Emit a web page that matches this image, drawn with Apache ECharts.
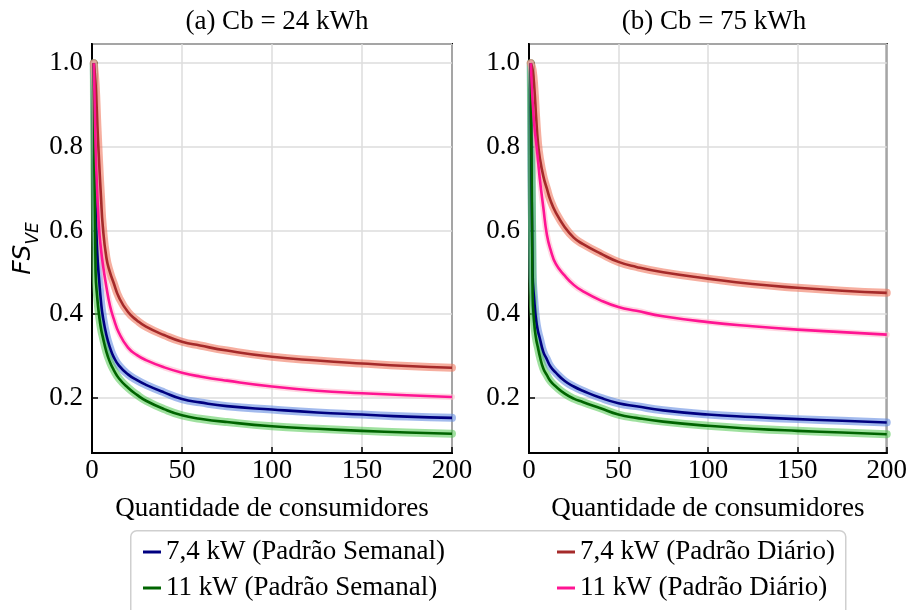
<!DOCTYPE html>
<html>
<head>
<meta charset="utf-8">
<script src="https://cdn.jsdelivr.net/npm/echarts@6/dist/echarts.min.js"></script>
<style>
  html, body { margin: 0; padding: 0; background: #fff; }
  #chart { width: 910px; height: 610px; }
</style>
</head>
<body>
<div id="chart"></div>
<script>
// Number of consumers (x) at which the simultaneity factor was evaluated
const consumers = [1, 2, 3, 4, 5, 6, 8, 10, 12, 15, 20, 25, 30, 40, 50, 60, 75, 100, 125, 150, 175, 200];

// (a) Cb = 24 kWh
const a_74_semanal = [1.0, 0.66, 0.54, 0.48, 0.43, 0.395, 0.35, 0.32, 0.298, 0.277, 0.256, 0.242, 0.231, 0.213, 0.197, 0.189, 0.180, 0.172, 0.165, 0.160, 0.155, 0.152];
const a_11_semanal = [1.0, 0.50, 0.435, 0.395, 0.365, 0.345, 0.31, 0.285, 0.267, 0.246, 0.224, 0.207, 0.193, 0.173, 0.158, 0.150, 0.142, 0.132, 0.126, 0.121, 0.117, 0.114];
const a_74_diario  = [1.0, 0.95, 0.85, 0.76, 0.68, 0.61, 0.535, 0.50, 0.475, 0.44, 0.405, 0.385, 0.37, 0.35, 0.334, 0.325, 0.313, 0.298, 0.289, 0.282, 0.276, 0.272];
const a_11_diario  = [1.0, 0.80, 0.68, 0.60, 0.555, 0.52, 0.465, 0.42, 0.39, 0.355, 0.32, 0.302, 0.29, 0.273, 0.26, 0.251, 0.241, 0.227, 0.217, 0.211, 0.206, 0.202];

// (b) Cb = 75 kWh
const b_74_semanal = [1.0, 0.50, 0.43, 0.385, 0.36, 0.343, 0.31, 0.292, 0.275, 0.26, 0.24, 0.227, 0.217, 0.20, 0.187, 0.18, 0.17, 0.16, 0.154, 0.149, 0.145, 0.141];
const b_11_semanal = [1.0, 0.45, 0.375, 0.34, 0.32, 0.30, 0.27, 0.254, 0.24, 0.227, 0.21, 0.198, 0.19, 0.175, 0.16, 0.152, 0.143, 0.133, 0.126, 0.121, 0.117, 0.113];
const b_74_diario  = [1.0, 0.985, 0.94, 0.87, 0.81, 0.775, 0.73, 0.70, 0.672, 0.643, 0.608, 0.583, 0.568, 0.545, 0.525, 0.513, 0.50, 0.485, 0.472, 0.463, 0.456, 0.451];
const b_11_diario  = [1.0, 0.91, 0.85, 0.81, 0.77, 0.725, 0.655, 0.59, 0.555, 0.52, 0.492, 0.47, 0.455, 0.433, 0.417, 0.408, 0.395, 0.381, 0.371, 0.363, 0.357, 0.351];

const panelTitles = ['(a) Cb = 24 kWh', '(b) Cb = 75 kWh'];
const seriesNames = ['7,4 kW (Padrão Semanal)', '11 kW (Padrão Semanal)', '7,4 kW (Padrão Diário)', '11 kW (Padrão Diário)'];
const xTitle = 'Quantidade de consumidores';

const SERIF = "'Liberation Serif', 'Times New Roman', serif";
const FS = 27;

// line colour / band colour per curve
const lineColors = ['#000080', '#006400', '#a52a2a', '#ff1493'];
const bandColors = ['rgba(100,140,225,0.6)', 'rgba(80,200,80,0.55)', 'rgba(240,120,95,0.6)', 'rgba(255,182,200,0.55)'];
const bandWidths = [8, 8, 8, 6];

const panels = [
  [a_74_semanal, a_11_semanal, a_74_diario, a_11_diario],
  [b_74_semanal, b_11_semanal, b_74_diario, b_11_diario]
];

const pairs = vals => consumers.map((x, i) => [x, vals[i]]);

const gridLefts = [92, 529];
const grids = gridLefts.map(l => ({
  left: l, top: 44, width: 360, height: 409,
  show: true, borderColor: '#000', borderWidth: 2, backgroundColor: 'transparent'
}));

const xAxes = gridLefts.map((l, i) => ({
  gridIndex: i, type: 'value', min: 0, max: 200, interval: 50,
  name: xTitle, nameLocation: 'middle', nameGap: 42,
  nameTextStyle: { fontFamily: SERIF, fontSize: FS, color: '#000' },
  axisLine: { show: true, lineStyle: { color: '#000', width: 2 } },
  axisTick: { show: true, inside: true, length: 6, lineStyle: { color: '#000', width: 1.5 } },
  axisLabel: { fontFamily: SERIF, fontSize: FS, color: '#000', margin: 4 },
  splitLine: { show: true, lineStyle: { color: '#dddddd', width: 1.5 } }
}));

const yAxes = gridLefts.map((l, i) => ({
  gridIndex: i, type: 'value', min: 0.068, max: 1.046,
  splitNumber: 5,
  name: i === 0 ? '{fs|FS}{ve|VE}' : '',
  nameLocation: 'middle', nameGap: 50, nameRotate: 90,
  nameTextStyle: {
    rich: {
      fs: { fontFamily: "'DejaVu Sans', sans-serif", fontStyle: 'italic', fontSize: 25, color: '#000', verticalAlign: 'bottom', padding: [0, 0, 6, 0] },
      ve: { fontFamily: "'DejaVu Sans', sans-serif", fontStyle: 'italic', fontSize: 17, color: '#000', verticalAlign: 'bottom' }
    }
  },
  axisLine: { show: true, lineStyle: { color: '#000', width: 2 } },
  axisTick: { show: true, inside: true, length: 6, lineStyle: { color: '#000', width: 1.5 } },
  axisLabel: {
    fontFamily: SERIF, fontSize: FS, color: '#000', margin: 9,
    showMinLabel: false, showMaxLabel: false,
    formatter: v => v.toFixed(1)
  },
  splitLine: { show: true, lineStyle: { color: '#dddddd', width: 1.5 } }
}));

const series = [];
// uncertainty bands, drawn underneath
panels.forEach((set, p) => {
  set.forEach((vals, k) => {
    series.push({
      type: 'line', xAxisIndex: p, yAxisIndex: p, data: pairs(vals),
      smooth: 0.5, showSymbol: false, silent: true, z: 1,
      lineStyle: { color: bandColors[k], width: bandWidths[k], cap: 'round', join: 'round' }
    });
  });
});
// mean curves
panels.forEach((set, p) => {
  set.forEach((vals, k) => {
    series.push({
      name: seriesNames[k],
      type: 'line', xAxisIndex: p, yAxisIndex: p, data: pairs(vals),
      smooth: 0.5, showSymbol: false, z: 3,
      color: lineColors[k],
      lineStyle: { color: lineColors[k], width: 2.6, join: 'round' }
    });
  });
});

const legendBase = {
  orient: 'vertical', top: 537, padding: 0, height: 70,
  icon: 'rect', itemWidth: 18, itemHeight: 3, itemGap: 6,
  textStyle: { fontFamily: SERIF, fontSize: FS, color: '#000', lineHeight: 30 },
  selectedMode: false
};

const option = {
  animation: false,
  backgroundColor: '#fff',
  title: panelTitles.map((t, i) => ({
    text: t, left: gridLefts[i] + 180, top: 3, textAlign: 'center',
    textStyle: { fontFamily: SERIF, fontSize: FS, fontWeight: 'normal', color: '#000' }
  })),
  graphic: [{
    type: 'rect', left: 130, top: 530, z: -1,
    shape: { width: 715, height: 100, r: 6 },
    style: { fill: '#fff', stroke: '#cfcfcf', lineWidth: 1.5 }
  }],
  legend: [
    Object.assign({}, legendBase, { left: 143, data: [seriesNames[0], seriesNames[1]] }),
    Object.assign({}, legendBase, { left: 557, data: [seriesNames[2], seriesNames[3]] })
  ],
  grid: grids,
  xAxis: xAxes,
  yAxis: yAxes,
  series: series
};

const chart = echarts.init(document.getElementById('chart'), null, { renderer: 'canvas' });
chart.setOption(option);
</script>
</body>
</html>
